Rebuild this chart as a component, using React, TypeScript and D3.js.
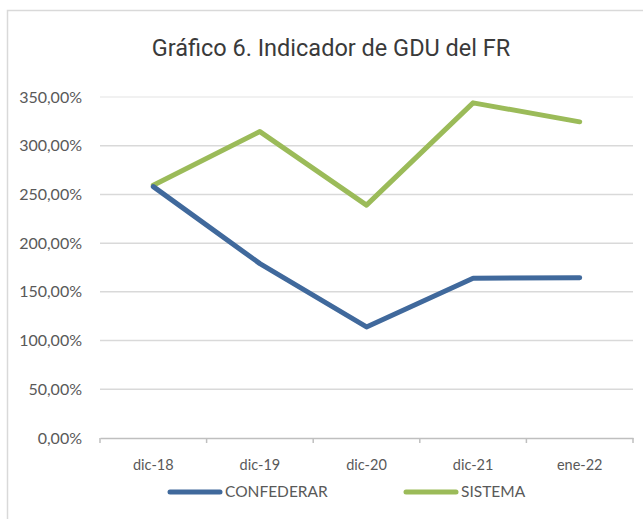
import * as d3 from 'd3';
import { useEffect, useRef } from 'react';

const categories = ['dic-18', 'dic-19', 'dic-20', 'dic-21', 'ene-22'];
const confederar = [258, 179, 114, 164, 164.5];
const sistema = [259.5, 314.5, 239, 344, 324.5];
const yTicks = [0, 50, 100, 150, 200, 250, 300, 350];

const W = 643;
const H = 519;
const blue = '#40699c';
const green = '#9bbb59';

function App() {
  const svgRef = useRef<SVGSVGElement>(null);

  useEffect(() => {
    const svg = d3.select(svgRef.current);
    svg.selectAll('*').remove();

    const margin = { top: 97, right: 10, bottom: 81, left: 100 };
    const width = W - margin.left - margin.right;
    const height = H - margin.top - margin.bottom;

    // chart frame
    svg.append('rect')
      .attr('x', 7.5).attr('y', 10.5)
      .attr('width', W).attr('height', H)
      .attr('fill', '#fff')
      .attr('stroke', '#d9d9d9')
      .attr('stroke-width', 1.5);

    svg.append('text')
      .attr('x', 331)
      .attr('y', 56)
      .attr('text-anchor', 'middle')
      .attr('font-family', 'Roboto, sans-serif')
      .attr('font-size', 23.5)
      .attr('fill', '#3a3a3a')
      .text('Gráfico 6. Indicador de GDU del FR');

    const x = d3.scaleBand().domain(categories).range([0, width]);
    const y = d3.scaleLinear().domain([0, 350]).range([height, 0]);

    const g = svg.append('g').attr('transform', `translate(${margin.left},${margin.top})`);

    g.selectAll('.grid')
      .data(yTicks.filter(t => t > 0))
      .join('line')
      .attr('x1', 0).attr('x2', width)
      .attr('y1', d => y(d)).attr('y2', d => y(d))
      .attr('stroke', d => (d === 350 ? '#ececec' : '#d9d9d9'))
      .attr('stroke-width', 1.5);

    const yAxis = d3.axisLeft(y)
      .tickValues(yTicks)
      .tickSize(0)
      .tickPadding(18)
      .tickFormat(d => d3.format('.2f')(d as number).replace('.', ',') + '%');

    const ya = g.append('g').call(yAxis);
    ya.select('.domain').remove();
    ya.selectAll('text')
      .attr('font-family', 'Lato, sans-serif')
      .attr('font-size', 16)
      .attr('fill', '#595959');

    const xAxis = d3.axisBottom(x).tickSize(0).tickPadding(22);
    const xa = g.append('g').attr('transform', `translate(0,${height})`).call(xAxis);
    xa.select('.domain').attr('stroke', '#bfbfbf').attr('stroke-width', 1.5);
    xa.selectAll('text')
      .attr('font-family', 'Lato, sans-serif')
      .attr('font-size', 14.5)
      .attr('fill', '#595959');

    // tick marks at band boundaries
    const bounds = categories.map(c => x(c) as number).concat([width]);
    xa.selectAll('.bnd')
      .data(bounds)
      .join('line')
      .attr('x1', d => d).attr('x2', d => d)
      .attr('y1', 0).attr('y2', 5)
      .attr('stroke', '#bfbfbf')
      .attr('stroke-width', 1.5);

    const line = d3.line<number>()
      .x((_, i) => (x(categories[i]) as number) + x.bandwidth() / 2)
      .y(d => y(d));

    [[sistema, green], [confederar, blue]].forEach(([vals, col]) => {
      g.append('path')
        .datum(vals as number[])
        .attr('fill', 'none')
        .attr('stroke', col as string)
        .attr('stroke-width', 5)
        .attr('stroke-linejoin', 'round')
        .attr('stroke-linecap', 'round')
        .attr('d', line);
    });

    // legend
    const legend = [
      { name: 'CONFEDERAR', color: blue, x: 170 },
      { name: 'SISTEMA', color: green, x: 406 },
    ];
    const lg = svg.append('g');
    legend.forEach(l => {
      lg.append('line')
        .attr('x1', l.x).attr('x2', l.x + 50)
        .attr('y1', 492).attr('y2', 492)
        .attr('stroke', l.color)
        .attr('stroke-width', 5)
        .attr('stroke-linecap', 'round');
      lg.append('text')
        .attr('x', l.x + 55)
        .attr('y', 492)
        .attr('dy', '0.35em')
        .attr('font-family', 'Lato, sans-serif')
        .attr('font-size', 15.5)
        .attr('fill', '#595959')
        .text(l.name);
    });
  }, []);

  return (
    <svg
      ref={svgRef}
      width={W}
      height={H}
      style={{ position: 'absolute', left: 0, top: 0, background: '#fff' }}
    />
  );
}

export default App;
